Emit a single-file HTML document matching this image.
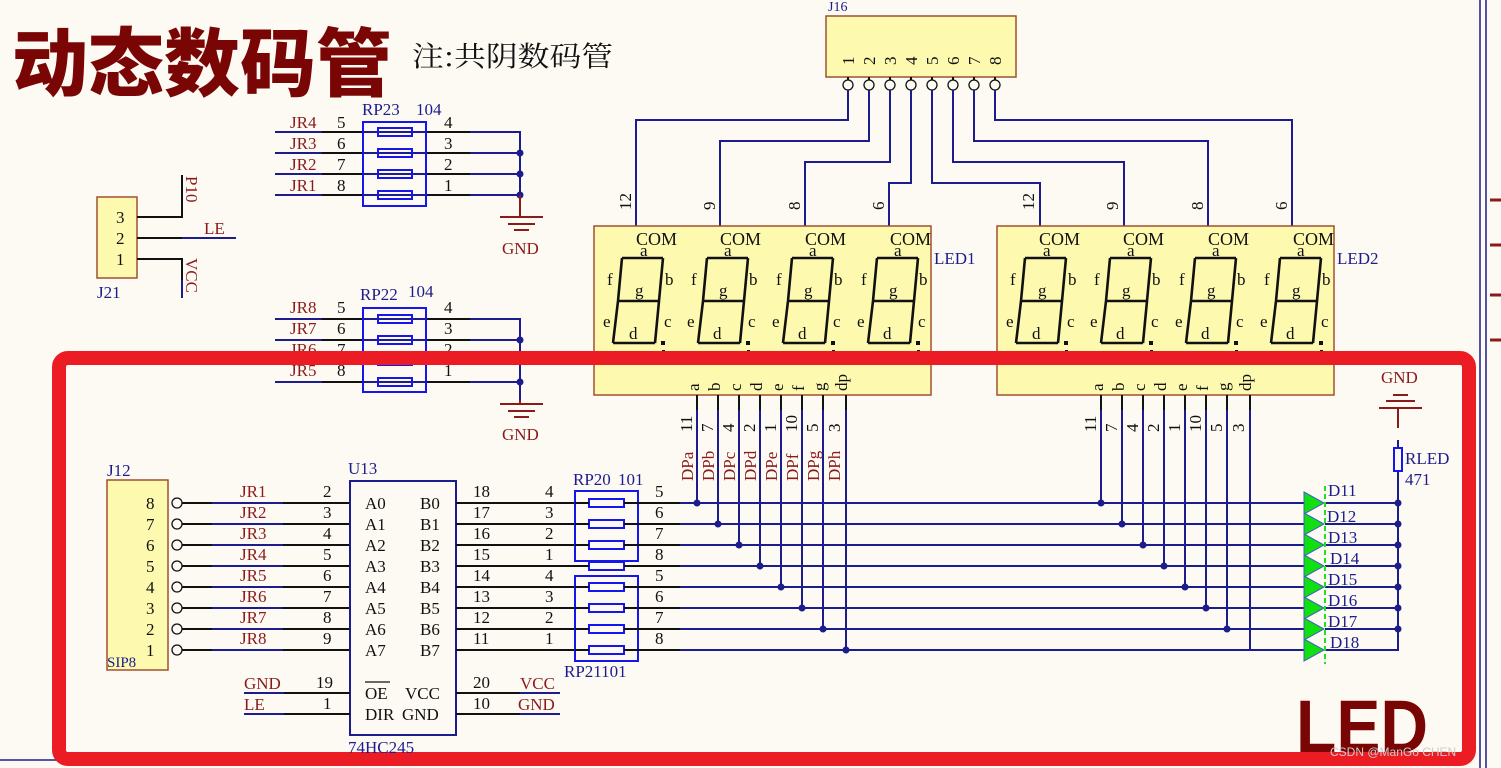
<!DOCTYPE html>
<html><head><meta charset="utf-8"><style>
html,body{margin:0;padding:0;background:#fdfaf4;}
svg{display:block;font-family:"Liberation Serif","Noto Serif CJK SC",serif;}
.r{fill:#8b1a1a}.b{fill:#1c1c8c}.k{fill:#111}
.w{stroke:#1c1c8c;stroke-width:2;fill:none}
.s{stroke:#111;stroke-width:2;fill:none}
.rw{stroke:#8b1a1a;stroke-width:2;fill:none}
.rs{stroke:#1515ee;stroke-width:2;fill:none}
.seg{stroke:#111;stroke-width:2.6;fill:none}
text{font-size:17px}
</style></head><body>
<svg width="1501" height="768" viewBox="0 0 1501 768" xmlns="http://www.w3.org/2000/svg">
<text x="12" y="90" fill="#7a0505" style="font-family:'Noto Sans CJK SC',sans-serif;font-weight:900;font-size:74px" textLength="380" lengthAdjust="spacingAndGlyphs">动态数码管</text>
<text x="412" y="66" class="k" style="font-family:'Noto Serif CJK SC',serif;font-size:28px" textLength="201" lengthAdjust="spacingAndGlyphs">注:共阴数码管</text>

<path d="M1480 0V768M1486 0V768" stroke="#1c1c8c" stroke-width="1.5"/>
<path d="M1490 200H1501M1490 245H1501M1490 295H1501M1490 340H1501" stroke="#8b1a1a" stroke-width="3"/>
<path d="M0 760H60" stroke="#1c1c8c" stroke-width="1.5"/>

<text x="828" y="11" class="b" style="font-size:14px">J16</text>
<rect x="826" y="16" width="190" height="61" fill="#fdfab0" stroke="#a05030" stroke-width="1.5"/>
<g class="k" style="font-size:17px">
<text transform="translate(854,65) rotate(-90)">1</text><text transform="translate(875,65) rotate(-90)">2</text><text transform="translate(896,65) rotate(-90)">3</text><text transform="translate(917,65) rotate(-90)">4</text><text transform="translate(938,65) rotate(-90)">5</text><text transform="translate(959,65) rotate(-90)">6</text><text transform="translate(980,65) rotate(-90)">7</text><text transform="translate(1001,65) rotate(-90)">8</text>
</g>
<g fill="#fdfaf4" stroke="#111" stroke-width="1.3">
<circle cx="848" cy="85" r="5"/><circle cx="869" cy="85" r="5"/><circle cx="890" cy="85" r="5"/><circle cx="911" cy="85" r="5"/><circle cx="932" cy="85" r="5"/><circle cx="953" cy="85" r="5"/><circle cx="974" cy="85" r="5"/><circle cx="995" cy="85" r="5"/>
</g>
<path class="s" d="M848 77V80M869 77V80M890 77V80M911 77V80M932 77V80M953 77V80M974 77V80M995 77V80"/>
<path class="w" d="M848 90V120H636V228M869 90V141H720V228M890 90V162H805V228M911 90V183H889V228M932 90V183H1040V228M953 90V162H1124V228M974 90V141H1208V228M995 90V120H1292V228"/>
<g class="k" style="font-size:16px">
<text transform="translate(631,210) rotate(-90)">12</text><text transform="translate(715,210) rotate(-90)">9</text><text transform="translate(800,210) rotate(-90)">8</text><text transform="translate(884,210) rotate(-90)">6</text>
<text transform="translate(1034,210) rotate(-90)">12</text><text transform="translate(1118,210) rotate(-90)">9</text><text transform="translate(1203,210) rotate(-90)">8</text><text transform="translate(1287,210) rotate(-90)">6</text>
</g>

<rect x="594" y="226" width="337" height="169" fill="#fdfab0" stroke="#a05030" stroke-width="1.5"/>
<rect x="997" y="226" width="337" height="169" fill="#fdfab0" stroke="#a05030" stroke-width="1.5"/>
<text x="934" y="264" class="b">LED1</text>
<text x="1337" y="264" class="b">LED2</text>

<defs>
<g id="dg">
<path class="seg" d="M622 258H663M618 301H659M613 343H655M622 258L618 301L613 343M663 258L659 301L655 343"/>
<rect x="661" y="341" width="4" height="4" fill="#111"/>
<rect x="662" y="350" width="3" height="6" fill="#111"/>
</g>
</defs>
<use href="#dg"/><use href="#dg" x="85"/><use href="#dg" x="170"/><use href="#dg" x="255"/>
<use href="#dg" x="403"/><use href="#dg" x="488"/><use href="#dg" x="573"/><use href="#dg" x="658"/>
<g class="k" style="font-size:17px">
<g><text x="636" y="245" style="font-size:18px">COM</text><text x="640" y="256">a</text><text x="607" y="285">f</text><text x="665" y="285">b</text><text x="635" y="296">g</text><text x="603" y="327">e</text><text x="664" y="327">c</text><text x="629" y="339">d</text></g>
<g transform="translate(84,0)"><text x="636" y="245" style="font-size:18px">COM</text><text x="640" y="256">a</text><text x="607" y="285">f</text><text x="665" y="285">b</text><text x="635" y="296">g</text><text x="603" y="327">e</text><text x="664" y="327">c</text><text x="629" y="339">d</text></g>
<g transform="translate(169,0)"><text x="636" y="245" style="font-size:18px">COM</text><text x="640" y="256">a</text><text x="607" y="285">f</text><text x="665" y="285">b</text><text x="635" y="296">g</text><text x="603" y="327">e</text><text x="664" y="327">c</text><text x="629" y="339">d</text></g>
<g transform="translate(254,0)"><text x="636" y="245" style="font-size:18px">COM</text><text x="640" y="256">a</text><text x="607" y="285">f</text><text x="665" y="285">b</text><text x="635" y="296">g</text><text x="603" y="327">e</text><text x="664" y="327">c</text><text x="629" y="339">d</text></g>
<g transform="translate(403,0)"><text x="636" y="245" style="font-size:18px">COM</text><text x="640" y="256">a</text><text x="607" y="285">f</text><text x="665" y="285">b</text><text x="635" y="296">g</text><text x="603" y="327">e</text><text x="664" y="327">c</text><text x="629" y="339">d</text></g>
<g transform="translate(487,0)"><text x="636" y="245" style="font-size:18px">COM</text><text x="640" y="256">a</text><text x="607" y="285">f</text><text x="665" y="285">b</text><text x="635" y="296">g</text><text x="603" y="327">e</text><text x="664" y="327">c</text><text x="629" y="339">d</text></g>
<g transform="translate(572,0)"><text x="636" y="245" style="font-size:18px">COM</text><text x="640" y="256">a</text><text x="607" y="285">f</text><text x="665" y="285">b</text><text x="635" y="296">g</text><text x="603" y="327">e</text><text x="664" y="327">c</text><text x="629" y="339">d</text></g>
<g transform="translate(657,0)"><text x="636" y="245" style="font-size:18px">COM</text><text x="640" y="256">a</text><text x="607" y="285">f</text><text x="665" y="285">b</text><text x="635" y="296">g</text><text x="603" y="327">e</text><text x="664" y="327">c</text><text x="629" y="339">d</text></g>
</g>

<g class="k" style="font-size:16px">
<g><text transform="translate(699,391) rotate(-90)">a</text><text transform="translate(720,391) rotate(-90)">b</text><text transform="translate(741,391) rotate(-90)">c</text><text transform="translate(762,391) rotate(-90)">d</text><text transform="translate(783,391) rotate(-90)">e</text><text transform="translate(804,391) rotate(-90)">f</text><text transform="translate(825,391) rotate(-90)">g</text><text transform="translate(847,391) rotate(-90)">dp</text>
<text transform="translate(692,432) rotate(-90)">11</text><text transform="translate(713,432) rotate(-90)">7</text><text transform="translate(734,432) rotate(-90)">4</text><text transform="translate(755,432) rotate(-90)">2</text><text transform="translate(776,432) rotate(-90)">1</text><text transform="translate(797,432) rotate(-90)">10</text><text transform="translate(818,432) rotate(-90)">5</text><text transform="translate(840,432) rotate(-90)">3</text></g>
<g transform="translate(404,0)"><text transform="translate(699,391) rotate(-90)">a</text><text transform="translate(720,391) rotate(-90)">b</text><text transform="translate(741,391) rotate(-90)">c</text><text transform="translate(762,391) rotate(-90)">d</text><text transform="translate(783,391) rotate(-90)">e</text><text transform="translate(804,391) rotate(-90)">f</text><text transform="translate(825,391) rotate(-90)">g</text><text transform="translate(847,391) rotate(-90)">dp</text>
<text transform="translate(692,432) rotate(-90)">11</text><text transform="translate(713,432) rotate(-90)">7</text><text transform="translate(734,432) rotate(-90)">4</text><text transform="translate(755,432) rotate(-90)">2</text><text transform="translate(776,432) rotate(-90)">1</text><text transform="translate(797,432) rotate(-90)">10</text><text transform="translate(818,432) rotate(-90)">5</text><text transform="translate(840,432) rotate(-90)">3</text></g>
</g>
<g class="r" style="font-size:16px">
<text transform="translate(693,481) rotate(-90)">DPa</text><text transform="translate(714,481) rotate(-90)">DPb</text><text transform="translate(735,481) rotate(-90)">DPc</text><text transform="translate(756,481) rotate(-90)">DPd</text><text transform="translate(777,481) rotate(-90)">DPe</text><text transform="translate(798,481) rotate(-90)">DPf</text><text transform="translate(819,481) rotate(-90)">DPg</text><text transform="translate(840,481) rotate(-90)">DPh</text>
</g>
<path class="s" d="M697 395V410M718 395V410M739 395V410M760 395V410M781 395V410M802 395V410M823 395V410M846 395V410M1101 395V410M1122 395V410M1143 395V410M1164 395V410M1185 395V410M1206 395V410M1227 395V410M1250 395V410"/>
<path class="w" d="M697 410V503M718 410V524M739 410V545M760 410V566M781 410V587M802 410V608M823 410V629M846 410V650M1101 410V503M1122 410V524M1143 410V545M1164 410V566M1185 410V587M1206 410V608M1227 410V629M1250 410V650"/>

<g class="r"><text x="290" y="128">JR4</text><text x="290" y="149">JR3</text><text x="290" y="170">JR2</text><text x="290" y="191">JR1</text>
<text x="290" y="313">JR8</text><text x="290" y="334">JR7</text><text x="290" y="355">JR6</text><text x="290" y="376">JR5</text>
<text x="502" y="254">GND</text><text x="502" y="440">GND</text></g>
<g class="k"><text x="337" y="128">5</text><text x="337" y="149">6</text><text x="337" y="170">7</text><text x="337" y="191">8</text>
<text x="444" y="128">4</text><text x="444" y="149">3</text><text x="444" y="170">2</text><text x="444" y="191">1</text>
<text x="337" y="313">5</text><text x="337" y="334">6</text><text x="337" y="355">7</text><text x="337" y="376">8</text>
<text x="444" y="313">4</text><text x="444" y="334">3</text><text x="444" y="355">2</text><text x="444" y="376">1</text></g>
<g class="b"><text x="362" y="115">RP23</text><text x="416" y="115">104</text><text x="360" y="300">RP22</text><text x="408" y="297">104</text></g>
<path class="w" d="M275 132H520V215M275 153H520M275 174H520M275 195H520M275 319H520V400M275 340H520M275 361H520M275 382H520"/>
<path class="s" d="M322 132H363M322 153H363M322 174H363M322 195H363M426 132H470M426 153H470M426 174H470M426 195H470M322 319H363M322 340H363M322 361H363M322 382H363M426 319H470M426 340H470M426 361H470M426 382H470"/>
<rect x="363" y="122" width="63" height="84" class="rs"/>
<rect x="363" y="308" width="63" height="84" class="rs"/>
<g class="rs" fill="#fdfaf4"><rect x="378" y="128" width="34" height="8"/><rect x="378" y="149" width="34" height="8"/><rect x="378" y="170" width="34" height="8"/><rect x="378" y="191" width="34" height="8"/><rect x="378" y="315" width="34" height="8"/><rect x="378" y="336" width="34" height="8"/><rect x="378" y="357" width="34" height="8"/><rect x="378" y="378" width="34" height="8"/></g>
<g fill="#1c1c8c"><circle cx="520" cy="153" r="3.5"/><circle cx="520" cy="174" r="3.5"/><circle cx="520" cy="195" r="3.5"/><circle cx="520" cy="340" r="3.5"/><circle cx="520" cy="361" r="3.5"/><circle cx="520" cy="382" r="3.5"/></g>
<path class="rw" d="M520 195V217M500 217H543M508 224H535M514 230H529M520 400V404M500 404H543M508 411H535M514 417H529"/>

<rect x="97" y="197" width="40" height="81" fill="#fdfab0" stroke="#a05030" stroke-width="1.5"/>
<g class="k"><text x="116" y="223">3</text><text x="116" y="244">2</text><text x="116" y="265">1</text></g>
<text x="97" y="298" class="b">J21</text>
<path class="s" d="M137 217H182V175M137 238H182M137 259H182V280"/>
<path class="w" d="M182 238H236M182 280V298"/>
<g class="r"><text x="204" y="234">LE</text><text transform="translate(186,176) rotate(90)">P10</text><text transform="translate(186,258) rotate(90)">VCC</text></g>

<rect x="59" y="358" width="1410" height="401" rx="9" fill="none" stroke="#ec1c24" stroke-width="14"/>

<text x="107" y="476" class="b">J12</text>
<rect x="107" y="480" width="61" height="190" fill="#fdfab0" stroke="#a05030" stroke-width="1.5"/>
<g class="k"><text x="146" y="509">8</text><text x="146" y="530">7</text><text x="146" y="551">6</text><text x="146" y="572">5</text><text x="146" y="593">4</text><text x="146" y="614">3</text><text x="146" y="635">2</text><text x="146" y="656">1</text></g>
<text x="107" y="667" class="b" style="font-size:15px">SIP8</text>
<g fill="#fdfaf4" stroke="#111" stroke-width="1.3"><circle cx="177" cy="503" r="5"/><circle cx="177" cy="524" r="5"/><circle cx="177" cy="545" r="5"/><circle cx="177" cy="566" r="5"/><circle cx="177" cy="587" r="5"/><circle cx="177" cy="608" r="5"/><circle cx="177" cy="629" r="5"/><circle cx="177" cy="650" r="5"/></g>
<path class="s" d="M182 503H350M182 524H350M182 545H350M182 566H350M182 587H350M182 608H350M182 629H350M182 650H350"/>
<path class="w" d="M212 503H283M212 524H283M212 545H283M212 566H283M212 587H283M212 608H283M212 629H283M212 650H283"/>
<g class="r"><text x="240" y="497">JR1</text><text x="240" y="518">JR2</text><text x="240" y="539">JR3</text><text x="240" y="560">JR4</text><text x="240" y="581">JR5</text><text x="240" y="602">JR6</text><text x="240" y="623">JR7</text><text x="240" y="644">JR8</text></g>
<g class="k"><text x="323" y="497">2</text><text x="323" y="518">3</text><text x="323" y="539">4</text><text x="323" y="560">5</text><text x="323" y="581">6</text><text x="323" y="602">7</text><text x="323" y="623">8</text><text x="323" y="644">9</text></g>

<text x="348" y="474" class="b">U13</text>
<rect x="350" y="481" width="106" height="254" fill="none" stroke="#1c1c8c" stroke-width="2"/>
<g class="k"><text x="365" y="509">A0</text><text x="365" y="530">A1</text><text x="365" y="551">A2</text><text x="365" y="572">A3</text><text x="365" y="593">A4</text><text x="365" y="614">A5</text><text x="365" y="635">A6</text><text x="365" y="656">A7</text>
<text x="420" y="509">B0</text><text x="420" y="530">B1</text><text x="420" y="551">B2</text><text x="420" y="572">B3</text><text x="420" y="593">B4</text><text x="420" y="614">B5</text><text x="420" y="635">B6</text><text x="420" y="656">B7</text>
<text x="365" y="699">OE</text><text x="405" y="699">VCC</text><text x="365" y="720">DIR</text><text x="402" y="720">GND</text>
<text x="473" y="497">18</text><text x="473" y="518">17</text><text x="473" y="539">16</text><text x="473" y="560">15</text><text x="473" y="581">14</text><text x="473" y="602">13</text><text x="473" y="623">12</text><text x="473" y="644">11</text>
<text x="545" y="497">4</text><text x="545" y="518">3</text><text x="545" y="539">2</text><text x="545" y="560">1</text><text x="545" y="581">4</text><text x="545" y="602">3</text><text x="545" y="623">2</text><text x="545" y="644">1</text>
<text x="655" y="497">5</text><text x="655" y="518">6</text><text x="655" y="539">7</text><text x="655" y="560">8</text><text x="655" y="581">5</text><text x="655" y="602">6</text><text x="655" y="623">7</text><text x="655" y="644">8</text>
<text x="316" y="688">19</text><text x="323" y="709">1</text><text x="473" y="688">20</text><text x="473" y="709">10</text></g>
<path d="M365 682H390" stroke="#111" stroke-width="1.3"/>
<text x="348" y="753" class="b">74HC245</text>
<path class="s" d="M456 503H575M456 524H575M456 545H575M456 566H575M456 587H575M456 608H575M456 629H575M456 650H575M284 693H350M284 714H350M456 693H520M456 714H520"/>
<path class="w" d="M244 693H284M244 714H284M520 693H560M520 714H560"/>
<g class="r"><text x="244" y="689">GND</text><text x="244" y="710">LE</text><text x="520" y="689">VCC</text><text x="518" y="710">GND</text></g>

<g class="b"><text x="573" y="485">RP20</text><text x="618" y="485">101</text><text x="564" y="677">RP21101</text></g>
<rect x="575" y="491" width="63" height="70" class="rs"/>
<rect x="575" y="576" width="63" height="85" class="rs"/>
<g class="rs" fill="#fdfaf4"><rect x="589" y="499" width="35" height="8"/><rect x="589" y="520" width="35" height="8"/><rect x="589" y="541" width="35" height="8"/><rect x="589" y="562" width="35" height="8"/><rect x="589" y="583" width="35" height="8"/><rect x="589" y="604" width="35" height="8"/><rect x="589" y="625" width="35" height="8"/><rect x="589" y="646" width="35" height="8"/></g>
<path class="s" d="M575 503H589M575 524H589M575 545H589M575 566H589M575 587H589M575 608H589M575 629H589M575 650H589M624 503H680M624 524H680M624 545H680M624 566H680M624 587H680M624 608H680M624 629H680M624 650H680"/>
<path class="w" d="M680 503H1305M680 524H1305M680 545H1305M680 566H1305M680 587H1305M680 608H1305M680 629H1305M680 650H1305M1325 503H1398V650H1325M1325 524H1398M1325 545H1398M1325 566H1398M1325 587H1398M1325 608H1398M1325 629H1398"/>
<g fill="#1c1c8c">
<circle cx="697" cy="503" r="3.5"/><circle cx="718" cy="524" r="3.5"/><circle cx="739" cy="545" r="3.5"/><circle cx="760" cy="566" r="3.5"/><circle cx="781" cy="587" r="3.5"/><circle cx="802" cy="608" r="3.5"/><circle cx="823" cy="629" r="3.5"/><circle cx="846" cy="650" r="3.5"/>
<circle cx="1101" cy="503" r="3.5"/><circle cx="1122" cy="524" r="3.5"/><circle cx="1143" cy="545" r="3.5"/><circle cx="1164" cy="566" r="3.5"/><circle cx="1185" cy="587" r="3.5"/><circle cx="1206" cy="608" r="3.5"/><circle cx="1227" cy="629" r="3.5"/>
<circle cx="1398" cy="503" r="3.5"/><circle cx="1398" cy="524" r="3.5"/><circle cx="1398" cy="545" r="3.5"/><circle cx="1398" cy="566" r="3.5"/><circle cx="1398" cy="587" r="3.5"/><circle cx="1398" cy="608" r="3.5"/><circle cx="1398" cy="629" r="3.5"/>
</g>

<g fill="#10e010" stroke="#4060c0" stroke-width="1">
<path d="M1304 492L1324 503L1304 514Z"/><path d="M1304 513L1324 524L1304 535Z"/><path d="M1304 534L1324 545L1304 556Z"/><path d="M1304 555L1324 566L1304 577Z"/><path d="M1304 576L1324 587L1304 598Z"/><path d="M1304 597L1324 608L1304 619Z"/><path d="M1304 618L1324 629L1304 640Z"/><path d="M1304 639L1324 650L1304 661Z"/>
</g>
<path d="M1325 486V664" stroke="#20e020" stroke-width="2" stroke-dasharray="5,3"/>
<g class="b"><text x="1328" y="496">D11</text><text x="1327" y="522">D12</text><text x="1328" y="543">D13</text><text x="1330" y="564">D14</text><text x="1328" y="585">D15</text><text x="1328" y="606">D16</text><text x="1328" y="627">D17</text><text x="1330" y="648">D18</text>
<text x="1405" y="464">RLED</text><text x="1405" y="485">471</text></g>
<path class="w" d="M1398 440V448M1398 471V503"/>
<rect x="1394" y="448" width="8" height="23" fill="none" stroke="#1515ee" stroke-width="2"/>
<path class="rw" d="M1398 408V428M1379 408H1422M1386 401H1415M1393 395H1408"/>
<text x="1381" y="383" class="r">GND</text>

<text x="1296" y="752" fill="#7a0505" style="font-family:'Liberation Sans',sans-serif;font-weight:bold;font-size:74px" textLength="132" lengthAdjust="spacingAndGlyphs">LED</text>
<text x="1330" y="756" fill="#ccc" style="font-family:'Liberation Sans',sans-serif;font-size:12px">CSDN @ManGo CHEN</text>
</svg>
</body></html>
